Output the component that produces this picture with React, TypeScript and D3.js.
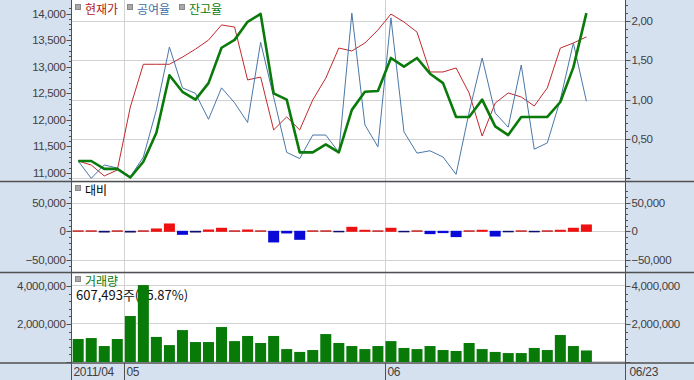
import React from "react";
import * as d3 from "d3";

const dates = [
  "2011/04/26","2011/04/27","2011/04/28","2011/04/29",
  "2011/05/02","2011/05/03","2011/05/04","2011/05/06","2011/05/09","2011/05/11","2011/05/12","2011/05/13",
  "2011/05/16","2011/05/17","2011/05/18","2011/05/19","2011/05/20","2011/05/23","2011/05/24","2011/05/25",
  "2011/05/26","2011/05/27","2011/05/30","2011/05/31",
  "2011/06/01","2011/06/02","2011/06/03","2011/06/07","2011/06/08","2011/06/09","2011/06/10","2011/06/13",
  "2011/06/14","2011/06/15","2011/06/16","2011/06/17","2011/06/20","2011/06/21","2011/06/22","2011/06/23",
];

// 현재가 (left axis)
const price = [
  11225, 11150, 10945, 11055, 12240, 13045, 13045, 13045, 13180, 13330, 13500, 13785,
  13745, 12750, 12805, 11810, 12055, 11810, 12375, 12785, 13350, 13295, 13445, 13690,
  13990, 13840, 13650, 12900, 12900, 12975, 12505, 11695, 12315, 12505, 12430, 12260,
  12600, 13350, 13445, 13560,
];
// 공여율 (right axis)
const lendRate = [
  0.22, 0.0, 0.17, 0.13, 0.02, 0.27, 0.87, 1.67, 1.15, 1.08, 0.75, 1.15,
  0.96, 0.71, 1.73, 1.03, 0.33, 0.25, 0.55, 0.55, 0.33, 2.1, 0.68, 0.4,
  2.04, 0.59, 0.32, 0.35, 0.27, 0.05, 0.84, 1.53, 0.83, 0.65, 1.44, 0.37,
  0.45, 1.0, 1.72, 0.98,
];
// 잔고율 (right axis)
const balanceRate = [
  0.22, 0.22, 0.12, 0.12, 0.01, 0.21, 0.58, 1.31, 1.1, 1.0, 1.21, 1.66,
  1.76, 1.99, 2.09, 1.08, 1.0, 0.33, 0.33, 0.43, 0.33, 0.87, 1.1, 1.11,
  1.53, 1.42, 1.53, 1.33, 1.21, 0.78, 0.78, 1.0, 0.66, 0.55, 0.78, 0.78,
  0.78, 0.97, 1.41, 2.1,
];
// 대비
const diff = [
  1000, 1000, -3000, 1000, -3000, 2000, 5800, 14500, -7000, -3000, 4000, 7000,
  2000, 4000, 1000, -20300, -4600, -15700, 1000, 1000, -2500, 8700, 3500, 1000,
  7000, -2500, 2000, -5800, -4000, -11000, 2300, 3500, -10000, -2500, 2300, -1000,
  1000, 3500, 7000, 12800,
];
// 거래량
const volume = [
  1210000, 1260000, 840000, 1210000, 2420000, 4050000, 1320000, 890000, 1680000, 1050000, 1050000, 1840000,
  1100000, 1370000, 1000000, 1370000, 680000, 530000, 630000, 1470000, 1000000, 840000, 680000, 840000,
  1100000, 740000, 680000, 840000, 630000, 580000, 1000000, 680000, 530000, 470000, 470000, 740000,
  630000, 1420000, 840000, 607493,
];

const priceTicks = [11000, 11500, 12000, 12500, 13000, 13500, 14000];
const rateTicks = [0, 0.5, 1.0, 1.5, 2.0];
const diffTicks = [-50000, 0, 50000];
const volTicks = [0, 2000000, 4000000];

const W = 694, H = 380;
const PL = 71.5, PR = 625.5;
const BG = "#d6e1f0";
const AX = "#505050";
const GRID = "#d2d2d2";
const TXT = "#404040";
const NUM_FONT = "'Liberation Sans', Arial, sans-serif";
const KR_FONT = "'Noto Sans CJK KR', sans-serif";

export default function App() {
  const x = d3.scaleLinear().domain([0, 39]).range([78.2, 586.4]);
  const bw = 11;

  const yP = d3.scaleLinear().domain([11000, 14000]).range([173, 13.5]);
  const yR = d3.scaleLinear().domain([0, 2]).range([178.3, 21]);
  const yD = d3.scaleLinear().domain([-50000, 50000]).range([260, 202.6]);
  const yV = d3.scaleLinear().domain([0, 4000000]).range([362, 286]);

  const idx = dates.map((_, i) => i);
  const linePrice = d3.line<number>().x((i) => x(i)).y((i) => yP(price[i]))(idx) || "";
  const lineLend = d3.line<number>().x((i) => x(i)).y((i) => yR(lendRate[i]))(idx) || "";
  const lineBal = d3.line<number>().x((i) => x(i)).y((i) => yR(balanceRate[i]))(idx) || "";

  const fmt = d3.format(",");
  const fmtR = (v: number) => v.toFixed(2).replace(".", ",");

  const monthStarts: { i: number; label: string }[] = [];
  dates.forEach((d, i) => {
    const m = d.slice(5, 7);
    if (i === 0) monthStarts.push({ i, label: d.slice(0, 7) });
    else if (dates[i - 1].slice(5, 7) !== m) monthStarts.push({ i, label: m });
  });
  const step = x(1) - x(0);
  const boundaryX = (i: number) => x(i) - step / 2 + 0.2;

  const leftTicks = (
    scale: d3.ScaleLinear<number, number>,
    ticks: number[],
    minor: number[],
    labelFmt: (v: number) => string,
    keyP: string,
    hideLabel: (v: number) => boolean = () => false
  ) => (
    <g key={keyP}>
      {minor.map((v, k) => (
        <line key={"m" + k} x1={PL - 2.5} x2={PL} y1={Math.round(scale(v)) + 0.5} y2={Math.round(scale(v)) + 0.5} stroke={AX} strokeWidth={1} />
      ))}
      {ticks.map((v, k) => (
        <g key={"t" + k}>
          <line x1={PL - 5} x2={PL} y1={Math.round(scale(v)) + 0.5} y2={Math.round(scale(v)) + 0.5} stroke={AX} strokeWidth={1} />
          {!hideLabel(v) && (
            <text x={PL - 6} y={scale(v) + 4} textAnchor="end" fontSize={11.5} fontFamily={NUM_FONT} fill={TXT} letterSpacing={-0.3}>
              {labelFmt(v)}
            </text>
          )}
        </g>
      ))}
    </g>
  );

  const rightTicks = (
    scale: d3.ScaleLinear<number, number>,
    ticks: number[],
    minor: number[],
    labelFmt: (v: number) => string,
    keyP: string,
    hideLabel: (v: number) => boolean = () => false
  ) => (
    <g key={keyP}>
      {minor.map((v, k) => (
        <line key={"m" + k} x1={PR} x2={PR + 2.5} y1={Math.round(scale(v)) + 0.5} y2={Math.round(scale(v)) + 0.5} stroke={AX} strokeWidth={1} />
      ))}
      {ticks.map((v, k) => (
        <g key={"t" + k}>
          <line x1={PR} x2={PR + 5} y1={Math.round(scale(v)) + 0.5} y2={Math.round(scale(v)) + 0.5} stroke={AX} strokeWidth={1} />
          {!hideLabel(v) && (
            <text x={PR + 6} y={scale(v) + 4} textAnchor="start" fontSize={11.5} fontFamily={NUM_FONT} fill={TXT} letterSpacing={-0.3}>
              {labelFmt(v)}
            </text>
          )}
        </g>
      ))}
    </g>
  );

  const priceMinor = d3.range(10900, 14200, 100);
  const rateMinor = d3.range(0, 2.25, 0.1);
  const diffMinor = d3.range(-70000, 80000, 10000);
  const volMinor = d3.range(0, 4400000, 400000);

  const legendItem = (xPos: number, yBase: number, label: string, color: string, k: string) => (
    <g key={k}>
      <rect x={xPos + 0.5} y={yBase - 9.5} width={5} height={5} fill="#a8a8a8" stroke="#8a8a8a" strokeWidth={1} />
      <text x={xPos + 10} y={yBase} fontSize={12} fontFamily={KR_FONT} fill={color}>
        {label}
      </text>
    </g>
  );

  return (
    <svg width={W} height={H} style={{ position: "absolute", left: 0, top: 0 }} xmlns="http://www.w3.org/2000/svg">
      <defs>
        <clipPath id="clipTop">
          <rect x={PL + 0.5} y={0} width={PR - PL - 1} height={180.5} />
        </clipPath>
      </defs>
      <rect x={0} y={0} width={W} height={H} fill={BG} />
      <rect x={PL + 0.5} y={0} width={PR - PL - 1} height={181} fill="#fff" />
      <rect x={PL + 0.5} y={182.5} width={PR - PL - 1} height={89.5} fill="#fff" />
      <rect x={PL + 0.5} y={273.5} width={PR - PL - 1} height={89} fill="#fff" />

      {rateTicks.map((v, k) => (
        <line key={"gr" + k} x1={PL} x2={PR} y1={Math.round(yR(v)) + 0.5} y2={Math.round(yR(v)) + 0.5} stroke={GRID} />
      ))}
      {diffTicks.map((v, k) => (
        <line key={"gd" + k} x1={PL} x2={PR} y1={Math.round(yD(v)) + 0.5} y2={Math.round(yD(v)) + 0.5} stroke={GRID} />
      ))}
      {volTicks.map((v, k) => (
        <line key={"gv" + k} x1={PL} x2={PR} y1={Math.round(yV(v)) - 0.5} y2={Math.round(yV(v)) - 0.5} stroke={GRID} />
      ))}
      {monthStarts.slice(1).map((m, k) => (
        <line key={"vg" + k} x1={Math.round(boundaryX(m.i)) + 0.5} x2={Math.round(boundaryX(m.i)) + 0.5} y1={0} y2={363} stroke={GRID} />
      ))}

      {legendItem(75, 14, "현재가", "#b01818", "l1")}
      {legendItem(127, 14, "공여율", "#3d6fa8", "l2")}
      {legendItem(179, 14, "잔고율", "#0a7a0a", "l3")}
      {legendItem(75, 195, "대비", "#000", "l4")}
      {legendItem(75, 286, "거래량", "#0a7a0a", "l5")}
      <text x={76} y={299.5} fontSize={13} fontFamily={KR_FONT} fill="#111">
        {fmt(volume[volume.length - 1]) + "주(75.87%)"}
      </text>

      <g clipPath="url(#clipTop)">
        <path d={linePrice} fill="none" stroke="#c0282d" strokeWidth={1} />
        <path d={lineLend} fill="none" stroke="#4a77a8" strokeWidth={1} />
        <path d={lineBal} fill="none" stroke="#0a7a0a" strokeWidth={2.6} strokeLinejoin="round" />
      </g>

      {diff.map((v, i) => {
        const y0 = yD(0);
        const y1 = yD(v);
        const h = Math.max(Math.abs(y1 - y0), 1.5);
        const top = v >= 0 ? y0 - h + 0.5 : y0 - 0.5;
        const small = Math.abs(y1 - y0) < 2;
        const fill = v >= 0 ? (small ? "#c82020" : "#ee1111") : small ? "#101070" : "#0a0ad8";
        return <rect key={"d" + i} x={x(i) - bw / 2} y={top} width={bw} height={h} fill={fill} />;
      })}

      {volume.map((v, i) => (
        <rect key={"v" + i} x={x(i) - bw / 2} y={yV(v)} width={bw} height={yV(0) - yV(v)} fill="#087a08" />
      ))}

      <line x1={0} x2={W} y1={181.5} y2={181.5} stroke={AX} strokeWidth={1.5} />
      <line x1={0} x2={W} y1={272.5} y2={272.5} stroke={AX} strokeWidth={1.5} />
      <line x1={0} x2={W} y1={363} y2={363} stroke={AX} strokeWidth={1.5} />
      <line x1={PL} x2={PL} y1={0} y2={H} stroke={AX} strokeWidth={1} />
      <line x1={PR} x2={PR} y1={0} y2={H} stroke={AX} strokeWidth={1} />

      {leftTicks(yP, priceTicks, priceMinor.filter((v) => yP(v) > 1 && yP(v) < 180), (v) => fmt(v), "lp")}
      {rightTicks(yR, rateTicks, rateMinor.filter((v) => yR(v) > 1 && yR(v) < 180), fmtR, "rr", (v) => v === 0)}
      {leftTicks(yD, diffTicks, diffMinor.filter((v) => yD(v) > 183 && yD(v) < 271), (v) => fmt(v), "ld")}
      {rightTicks(yD, diffTicks, diffMinor.filter((v) => yD(v) > 183 && yD(v) < 271), (v) => fmt(v), "rd")}
      {leftTicks(yV, volTicks, volMinor.filter((v) => yV(v) > 274 && yV(v) < 362), (v) => fmt(v), "lv", (v) => v === 0)}
      {rightTicks(yV, volTicks, volMinor.filter((v) => yV(v) > 274 && yV(v) < 362), (v) => fmt(v), "rv", (v) => v === 0)}

      {monthStarts.map((m, k) => {
        const bx = k === 0 ? PL : Math.round(boundaryX(m.i)) + 0.5;
        return (
          <g key={"xl" + k}>
            <line x1={bx} x2={bx} y1={363} y2={H} stroke={AX} strokeWidth={1} />
            <text x={bx + 2} y={376} fontSize={12} fontFamily={NUM_FONT} fill={TXT} letterSpacing={-0.3}>
              {m.label}
            </text>
          </g>
        );
      })}
      <text x={PR + 4} y={376} fontSize={12} fontFamily={NUM_FONT} fill={TXT} letterSpacing={-0.3}>
        {dates[dates.length - 1].slice(5)}
      </text>
    </svg>
  );
}
